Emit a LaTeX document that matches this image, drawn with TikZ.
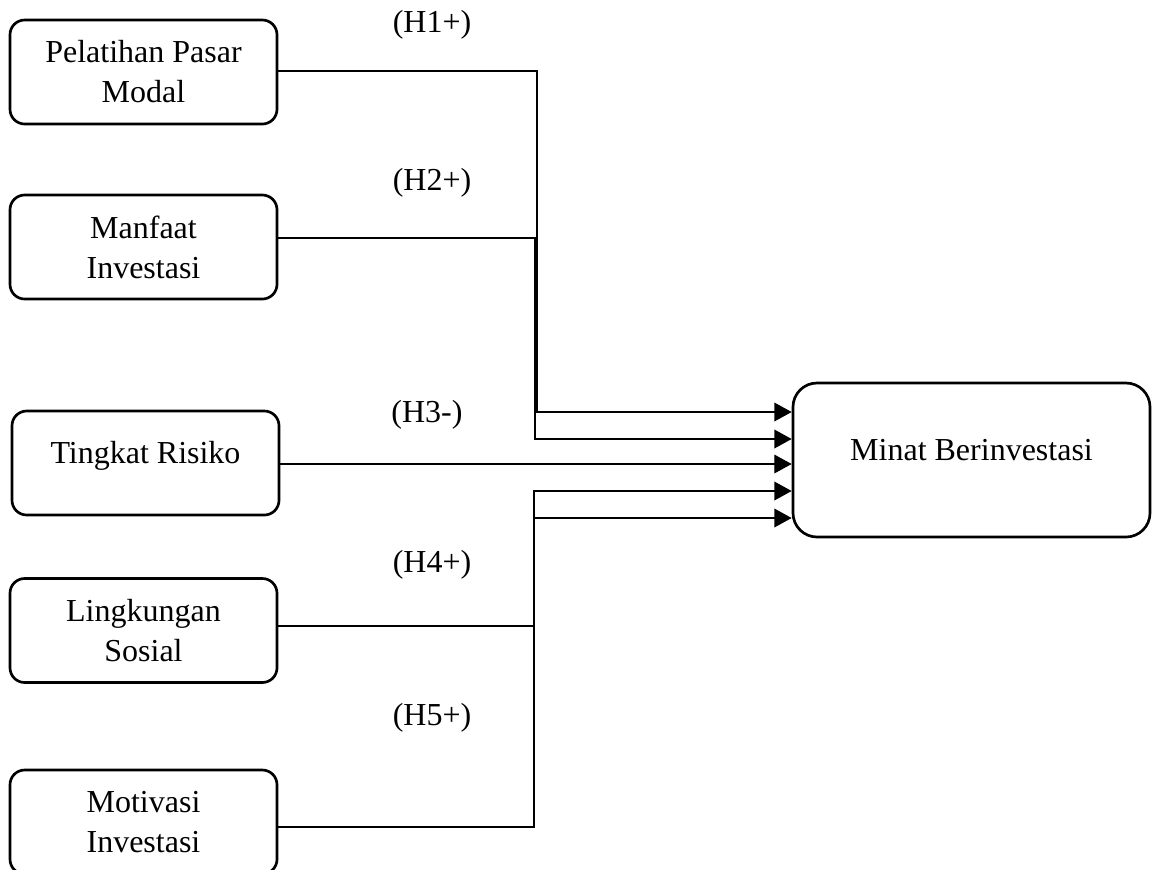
\documentclass[tikz,border=0pt]{standalone}
\usepackage{fontspec}
\setmainfont{Liberation Serif}
\usetikzlibrary{arrows.meta}
\begin{document}
\begin{tikzpicture}[x=0.75pt,y=-0.75pt,
  font=\fontsize{24}{30}\selectfont,
  varbox/.style={draw, line width=2pt, rounded corners=11pt, align=center,
    minimum width=200.25pt, minimum height=78pt, inner sep=0pt},
  bigbox/.style={draw, line width=2pt, rounded corners=18pt,
    minimum width=267.75pt, minimum height=115.5pt, inner sep=0pt,
    text height=16pt, text depth=15pt},
  conn/.style={line width=1.1pt, line join=miter},
  arr/.style={conn, -{Triangle[length=13pt,width=14pt]}},
  hyp/.style={anchor=base}]
\useasboundingbox (0,0) rectangle (1152,869);
\clip (0,0) rectangle (1152,869);

\node[varbox] (b1) at (143.5,72) {Pelatihan Pasar\\Modal};
\node[varbox] (b2) at (143.5,247) {Manfaat\\Investasi};
\node[varbox, text height=16pt, text depth=16pt] (b3) at (145.5,463) {Tingkat Risiko};
\node[varbox] (b4) at (143.5,630.5) {Lingkungan\\Sosial};
\node[varbox] (b5) at (143.5,822) {Motivasi\\Investasi};
\node[bigbox] (m) at (971.5,460) {Minat Berinvestasi};

\node[hyp] (h1) at (432,32) {(H1+)};
\node[hyp] (h2) at (432,190) {(H2+)};
\node[hyp] (h3) at (427,422) {(H3-)};
\node[hyp] (h4) at (432,572) {(H4+)};
\node[hyp] (h5) at (432,725) {(H5+)};

\draw[arr] (b1.east |- 0,71) -| (537,412) -- (m.west |- 0,412);
\draw[arr] (b2.east |- 0,238) -| (535,439) -- (m.west |- 0,439);
\draw[arr, line width=0.8pt] (b3.east |- 0,464) -- (m.west |- 0,464);
\draw[arr] (b4.east |- 0,626) -| (534,491) -- (m.west |- 0,491);
\draw[arr] (b5.east |- 0,827) -| (534,518) -- (m.west |- 0,518);
\end{tikzpicture}
\end{document}
